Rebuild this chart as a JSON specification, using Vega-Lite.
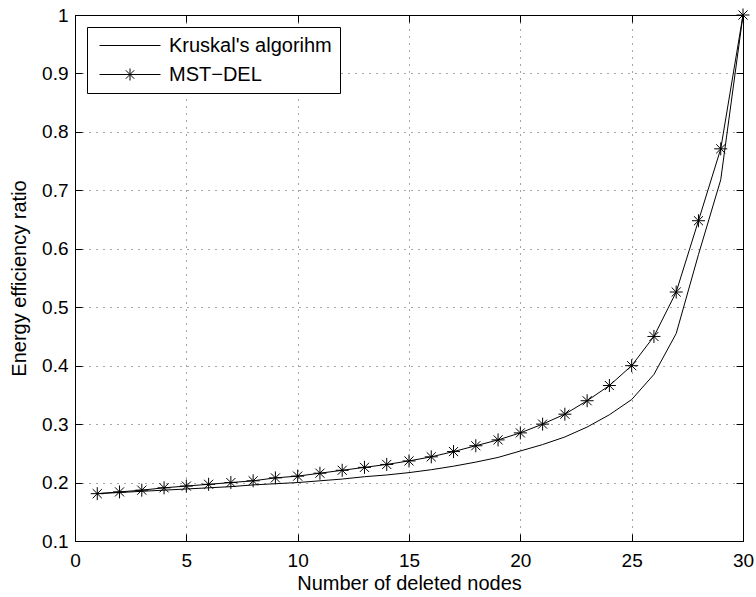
{
  "$schema": "https://vega.github.io/schema/vega-lite/v6.json",
  "width": 668,
  "height": 526,
  "autosize": {"type": "none"},
  "padding": {"left": 75, "top": 15, "right": 13, "bottom": 56},
  "background": "white",
  "config": {
    "view": {"stroke": "black", "strokeWidth": 1},
    "font": "Liberation Sans"
  },
  "data": {
    "values": [
      {"n": 1, "series": "Kruskal's algorihm", "v": 0.181},
      {"n": 2, "series": "Kruskal's algorihm", "v": 0.183},
      {"n": 3, "series": "Kruskal's algorihm", "v": 0.185},
      {"n": 4, "series": "Kruskal's algorihm", "v": 0.187},
      {"n": 5, "series": "Kruskal's algorihm", "v": 0.189},
      {"n": 6, "series": "Kruskal's algorihm", "v": 0.191},
      {"n": 7, "series": "Kruskal's algorihm", "v": 0.193},
      {"n": 8, "series": "Kruskal's algorihm", "v": 0.196},
      {"n": 9, "series": "Kruskal's algorihm", "v": 0.198},
      {"n": 10, "series": "Kruskal's algorihm", "v": 0.2},
      {"n": 11, "series": "Kruskal's algorihm", "v": 0.203},
      {"n": 12, "series": "Kruskal's algorihm", "v": 0.206},
      {"n": 13, "series": "Kruskal's algorihm", "v": 0.21},
      {"n": 14, "series": "Kruskal's algorihm", "v": 0.213},
      {"n": 15, "series": "Kruskal's algorihm", "v": 0.217},
      {"n": 16, "series": "Kruskal's algorihm", "v": 0.222},
      {"n": 17, "series": "Kruskal's algorihm", "v": 0.228},
      {"n": 18, "series": "Kruskal's algorihm", "v": 0.235},
      {"n": 19, "series": "Kruskal's algorihm", "v": 0.243},
      {"n": 20, "series": "Kruskal's algorihm", "v": 0.254},
      {"n": 21, "series": "Kruskal's algorihm", "v": 0.265},
      {"n": 22, "series": "Kruskal's algorihm", "v": 0.278},
      {"n": 23, "series": "Kruskal's algorihm", "v": 0.295},
      {"n": 24, "series": "Kruskal's algorihm", "v": 0.316},
      {"n": 25, "series": "Kruskal's algorihm", "v": 0.342},
      {"n": 26, "series": "Kruskal's algorihm", "v": 0.385},
      {"n": 27, "series": "Kruskal's algorihm", "v": 0.455},
      {"n": 28, "series": "Kruskal's algorihm", "v": 0.59},
      {"n": 29, "series": "Kruskal's algorihm", "v": 0.718},
      {"n": 30, "series": "Kruskal's algorihm", "v": 1.0},
      {"n": 1, "series": "MST−DEL", "v": 0.181},
      {"n": 2, "series": "MST−DEL", "v": 0.184},
      {"n": 3, "series": "MST−DEL", "v": 0.187},
      {"n": 4, "series": "MST−DEL", "v": 0.191},
      {"n": 5, "series": "MST−DEL", "v": 0.194},
      {"n": 6, "series": "MST−DEL", "v": 0.197},
      {"n": 7, "series": "MST−DEL", "v": 0.2},
      {"n": 8, "series": "MST−DEL", "v": 0.203},
      {"n": 9, "series": "MST−DEL", "v": 0.208},
      {"n": 10, "series": "MST−DEL", "v": 0.211},
      {"n": 11, "series": "MST−DEL", "v": 0.216},
      {"n": 12, "series": "MST−DEL", "v": 0.221},
      {"n": 13, "series": "MST−DEL", "v": 0.226},
      {"n": 14, "series": "MST−DEL", "v": 0.231},
      {"n": 15, "series": "MST−DEL", "v": 0.237},
      {"n": 16, "series": "MST−DEL", "v": 0.244},
      {"n": 17, "series": "MST−DEL", "v": 0.253},
      {"n": 18, "series": "MST−DEL", "v": 0.263},
      {"n": 19, "series": "MST−DEL", "v": 0.273},
      {"n": 20, "series": "MST−DEL", "v": 0.285},
      {"n": 21, "series": "MST−DEL", "v": 0.3},
      {"n": 22, "series": "MST−DEL", "v": 0.317},
      {"n": 23, "series": "MST−DEL", "v": 0.34},
      {"n": 24, "series": "MST−DEL", "v": 0.366},
      {"n": 25, "series": "MST−DEL", "v": 0.4},
      {"n": 26, "series": "MST−DEL", "v": 0.45},
      {"n": 27, "series": "MST−DEL", "v": 0.526},
      {"n": 28, "series": "MST−DEL", "v": 0.648},
      {"n": 29, "series": "MST−DEL", "v": 0.771},
      {"n": 30, "series": "MST−DEL", "v": 1.0}
    ]
  },
  "resolve": {"axis": {"x": "independent", "y": "independent"}},
  "layer": [
    {
      "mark": {"type": "line", "color": "black", "strokeWidth": 1},
      "encoding": {
        "x": {
          "field": "n", "type": "quantitative",
          "scale": {"domain": [0, 30], "nice": false, "zero": false},
          "axis": {
            "orient": "bottom", "values": [0, 5, 10, 15, 20, 25, 30],
            "tickSize": -7, "tickColor": "black", "domainColor": "black",
            "labelPadding": 17, "labelFont": "Liberation Sans", "labelFontSize": 19, "labelColor": "black",
            "labelFlush": false,
            "grid": true, "gridColor": "black", "gridDash": [1, 6], "gridOpacity": 0.7,
            "title": "Number of deleted nodes", "titleFont": "Liberation Sans", "titleFontSize": 20,
            "titleFontWeight": "normal", "titleColor": "black", "titlePadding": 3
          }
        },
        "y": {
          "field": "v", "type": "quantitative",
          "scale": {"domain": [0.1, 1], "nice": false, "zero": false},
          "axis": {
            "orient": "left", "values": [0.1, 0.2, 0.3, 0.4, 0.5, 0.6, 0.7, 0.8, 0.9, 1],
            "format": "~g",
            "tickSize": -7, "tickColor": "black", "domainColor": "black",
            "labelPadding": 14, "labelFont": "Liberation Sans", "labelFontSize": 19, "labelColor": "black",
            "labelFlush": false,
            "grid": true, "gridColor": "black", "gridDash": [1, 6], "gridOpacity": 0.7,
            "title": "Energy efficiency ratio", "titleFont": "Liberation Sans", "titleFontSize": 20,
            "titleFontWeight": "normal", "titleColor": "black", "titlePadding": 12
          }
        },
        "detail": {"field": "series"}
      }
    },
    {
      "transform": [{"filter": "datum.series === 'MST−DEL'"}],
      "mark": {
        "type": "point", "shape": "M0,-1V1M-1,0H1M-0.7,-0.7L0.7,0.7M-0.7,0.7L0.7,-0.7",
        "size": 169, "filled": false, "color": "black", "strokeWidth": 1, "opacity": 1
      },
      "encoding": {
        "x": {
          "field": "n", "type": "quantitative",
          "axis": {
            "orient": "top", "values": [0, 5, 10, 15, 20, 25, 30],
            "tickSize": -7, "tickColor": "black", "domainColor": "black",
            "labels": false, "grid": false, "title": null
          }
        },
        "y": {
          "field": "v", "type": "quantitative",
          "axis": {
            "orient": "right", "values": [0.1, 0.2, 0.3, 0.4, 0.5, 0.6, 0.7, 0.8, 0.9, 1],
            "tickSize": -7, "tickColor": "black", "domainColor": "black",
            "labels": false, "grid": false, "title": null
          }
        }
      }
    },
    {
      "transform": [{"filter": "datum.n > 100"}],
      "mark": {"type": "point", "filled": false, "color": "black", "strokeWidth": 1, "opacity": 1},
      "encoding": {
        "x": {"field": "n", "type": "quantitative", "axis": null},
        "y": {"field": "v", "type": "quantitative", "axis": null},
        "shape": {
          "field": "series", "type": "nominal",
          "scale": {
            "domain": ["Kruskal's algorihm", "MST−DEL"],
            "range": ["M-0.6,0H5.5", "M-0.6,0H5.5M2.45,-0.6V0.6M1.85,0H3.05M2.03,-0.42L2.87,0.42M2.03,0.42L2.87,-0.42"]
          },
          "legend": {
            "orient": "none", "legendX": 12, "legendY": 12, "title": null,
            "strokeColor": "black", "fillColor": "white", "padding": 8, "cornerRadius": 0,
            "symbolSize": 400, "symbolStrokeColor": "black", "symbolStrokeWidth": 1,
            "symbolFillColor": "transparent", "symbolOpacity": 1,
            "labelFont": "Liberation Sans", "labelFontSize": 20, "labelColor": "black",
            "labelOffset": 53, "rowPadding": 8, "labelLimit": 400
          }
        }
      }
    }
  ]
}
